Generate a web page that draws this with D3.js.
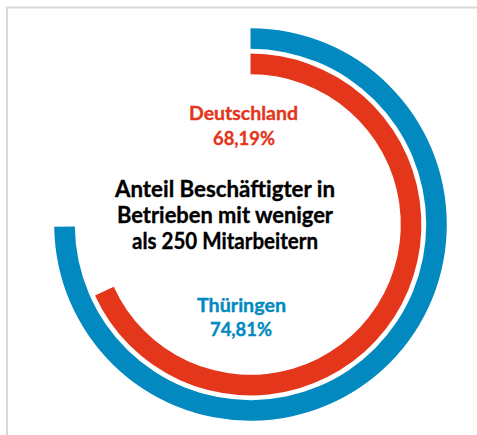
<!DOCTYPE html>
<html>
<head>
<meta charset="utf-8">
<script src="https://cdn.jsdelivr.net/npm/d3@7"></script>
<style>
  html, body { margin: 0; padding: 0; background: #ffffff; }
  svg { display: block; }
</style>
</head>
<body>
<svg id="chart" width="477" height="435"></svg>
<script>
// ---- data ----
const categories = ["Thüringen", "Deutschland"];
const values = [74.81, 68.19];
const valueLabels = ["74,81%", "68,19%"];
const colors = ["#0189c0", "#e3361a"];
const centerLines = ["Anteil Beschäftigter in", "Betrieben mit weniger", "als 250 Mitarbeitern"];

const svg = d3.select("#chart");

// frame (partially visible chart border)
svg.append("path")
  .attr("d", "M7,435 L7,7.5 L477,7.5")
  .attr("fill", "none")
  .attr("stroke", "#d9d9d9")
  .attr("stroke-width", 2);

const cx = 250.5, cy = 224.5;
const g = svg.append("g").attr("transform", `translate(${cx},${cy})`);

const angle = d3.scaleLinear().domain([0, 100]).range([0, 2 * Math.PI]);
// band scale over radii, reversed so the first category is the outer ring
const ring = d3.scaleBand().domain(categories).range([196.3, 150.3]).paddingInner(0.19);

const arc = d3.arc()
  .innerRadius(d => ring(d.cat))
  .outerRadius(d => ring(d.cat) + ring.bandwidth())
  .startAngle(0)
  .endAngle(d => angle(d.value));

const data = categories.map((c, i) => ({ cat: c, value: values[i], color: colors[i] }));

g.selectAll("path.bar")
  .data(data)
  .join("path")
  .attr("class", "bar")
  .attr("d", arc)
  .attr("fill", d => d.color);

// labels
const font = "Lato, 'Open Sans', sans-serif";
function label(text, x, y, size, color, len) {
  svg.append("text")
    .attr("x", x).attr("y", y)
    .attr("text-anchor", "middle")
    .attr("font-family", font)
    .attr("font-weight", "bold")
    .attr("font-size", size)
    .attr("fill", color)
    .attr("stroke", color)
    .attr("stroke-width", 0.35)
    .attr("textLength", len)
    .attr("lengthAdjust", "spacingAndGlyphs")
    .text(text);
}

label(categories[1], 243.5, 120, 18.5, colors[1], 109);
label(valueLabels[1], 244, 145, 18.5, colors[1], 62);
label(categories[0], 241.5, 312, 18.5, colors[0], 89);
label(valueLabels[0], 241, 336, 18.5, colors[0], 62);

const centerLens = [220, 216, 186];
const centerY = [197, 223, 248.5];
centerLines.forEach((t, i) => label(t, 225, centerY[i], 22.5, "#000000", centerLens[i]));
</script>
</body>
</html>
